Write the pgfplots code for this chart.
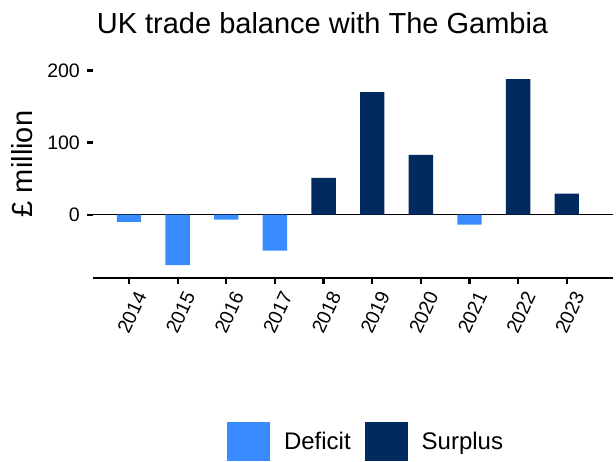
\documentclass[border=0pt]{standalone}
\usepackage{fontspec}
\setmainfont{Liberation Sans}
\usepackage{pgfplots}
\pgfplotsset{compat=1.18}
\definecolor{deficit}{HTML}{388CFF}
\definecolor{surplus}{HTML}{012A5E}
\begin{document}
\begin{tikzpicture}[x=1pt,y=1pt]
\path[use as bounding box] (-93,-183.3) rectangle (523,277.7);
\begin{axis}[
    at={(0,0)}, anchor=south west,
    scale only axis, width=520pt, height=218pt,
    ybar, bar shift=0pt, bar width=24.4pt,
    xmin=-0.74, xmax=9.95, ymin=-87.5, ymax=215,
    axis x line=bottom, axis y line=left,
    x axis line style={-, line width=2pt},
    y axis line style={draw=none},
    tick align=outside, major tick length=6pt,
    tick style={black, line width=2.2pt},
    xtick={0,...,9},
    xticklabels={2014,2015,2016,2017,2018,2019,2020,2021,2022,2023},
    xticklabel style={xshift=13pt, yshift=-7pt, rotate=65, anchor=east, font=\fontsize{19.5}{23}\selectfont, inner sep=2pt},
    ytick={0,100,200},
    yticklabel style={font=\fontsize{19.5}{23}\selectfont, inner sep=2pt, xshift=-5pt},
    /pgf/number format/assume math mode=true,
    legend style={at={(axis description cs:0.2577,-0.7505)}, anchor=west, draw=none,
        inner sep=0pt, outer sep=0pt,
        legend columns=2, font=\fontsize{24}{28}\selectfont,
        /tikz/every even column/.append style={column sep=12pt},
        /tikz/every odd column/.append style={column sep=0pt}},
    legend image code/.code={\fill[#1] (0pt,-19.5pt) rectangle (43pt,19.5pt);},
    legend cell align=left,
]
\draw[black, line width=0.8pt] ({rel axis cs:0,0}|-{axis cs:0,0}) -- ({rel axis cs:1,0}|-{axis cs:0,0});
\addplot[fill=deficit, draw=none] coordinates {(0,-10) (1,-70) (2,-7) (3,-50) (7,-14)};
\addplot[fill=surplus, draw=none] coordinates {(4,51) (5,170) (6,83) (8,188) (9,29)};
\legend{\hspace{12pt}Deficit, \hspace{12pt}Surplus}
\end{axis}
\node[anchor=base, font=\fontsize{29}{34}\selectfont] at (229.5,243.7) {UK trade balance with The Gambia};
\node[rotate=90, anchor=center, font=\fontsize{29}{34}\selectfont] at (-71,113.7) {£ million};
\end{tikzpicture}
\end{document}
